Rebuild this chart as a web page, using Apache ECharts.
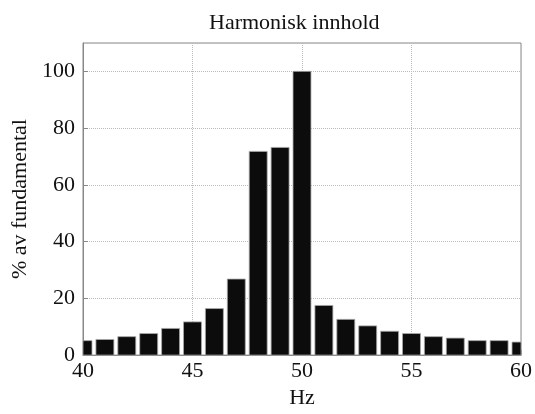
<!DOCTYPE html>
<html>
<head>
<meta charset="utf-8">
<script src="https://cdn.jsdelivr.net/npm/echarts@6/dist/echarts.min.js"></script>
<style>
  html, body { margin: 0; padding: 0; background: #fff; }
  #chart { width: 535px; height: 414px; }
</style>
</head>
<body>
<div id="chart"></div>
<script>
// frekvens (Hz) og amplitude i % av fundamental
const freqs = [40, 41, 42, 43, 44, 45, 46, 47, 48, 49, 50, 51, 52, 53, 54, 55, 56, 57, 58, 59, 60]
const amps = [5.1, 5.5, 6.5, 7.6, 9.4, 11.7, 16.4, 26.8, 71.8, 73.2, 100, 17.5, 12.6, 10.3, 8.4, 7.6, 6.5, 6.0, 5.1, 5.1, 4.6]
const xTicks = [40, 45, 50, 55, 60]
const yTicks = [0, 20, 40, 60, 80, 100]
const halfBar = 0.41 // halv stolpebredde i Hz

const font = "'Liberation Serif', 'Times New Roman', serif"
const chart = echarts.init(document.getElementById('chart'))

function renderBar(params, api) {
  const f = api.value(0)
  const v = api.value(1)
  const p0 = api.coord([f - halfBar, v])
  const p1 = api.coord([f + halfBar, 0])
  const rect = echarts.graphic.clipRectByRect(
    { x: p0[0], y: p0[1], width: p1[0] - p0[0], height: p1[1] - p0[1] },
    { x: params.coordSys.x, y: params.coordSys.y, width: params.coordSys.width, height: params.coordSys.height }
  )
  if (!rect) return
  return {
    type: 'rect',
    shape: rect,
    style: { fill: '#0c0c0c', stroke: '#aaa', lineWidth: 0.8 }
  }
}

const option = {
  animation: false,
  title: {
    text: 'Harmonisk innhold',
    left: 204,
    top: 7,
    textStyle: { fontFamily: font, fontSize: 22, fontWeight: 'normal', color: '#111' }
  },
  grid: {
    left: 83,
    right: 12,
    top: 43,
    bottom: 57,
    show: true,
    borderColor: '#888',
    borderWidth: 1
  },
  xAxis: {
    type: 'value',
    min: xTicks[0],
    max: xTicks[xTicks.length - 1],
    interval: 5,
    name: 'Hz',
    nameLocation: 'middle',
    nameGap: 31,
    nameTextStyle: { fontFamily: font, fontSize: 22, color: '#111' },
    axisLine: { show: true, lineStyle: { color: '#888' } },
    axisTick: { show: true, inside: true, length: 5, lineStyle: { color: '#888' } },
    axisLabel: { fontFamily: font, fontSize: 22, color: '#111', margin: 5 },
    splitLine: { show: true, lineStyle: { type: [1, 1], color: '#bbb' } }
  },
  yAxis: {
    type: 'value',
    min: yTicks[0],
    max: 110,
    interval: 20,
    name: '% av fundamental',
    nameLocation: 'middle',
    nameGap: 48,
    nameTextStyle: { fontFamily: font, fontSize: 22, color: '#111' },
    axisLine: { show: true, lineStyle: { color: '#888' } },
    axisTick: { show: true, inside: true, length: 5, lineStyle: { color: '#888' } },
    axisLabel: {
      fontFamily: font, fontSize: 22, color: '#111', margin: 8,
      showMaxLabel: false,
      formatter: v => (yTicks.indexOf(v) >= 0 ? String(v) : '')
    },
    splitLine: { show: true, lineStyle: { type: [1, 1], color: '#bbb' } }
  },
  series: [
    {
      type: 'custom',
      renderItem: renderBar,
      encode: { x: 0, y: 1 },
      data: freqs.map((f, i) => [f, amps[i]])
    }
  ]
}
chart.setOption(option)
</script>
</body>
</html>
